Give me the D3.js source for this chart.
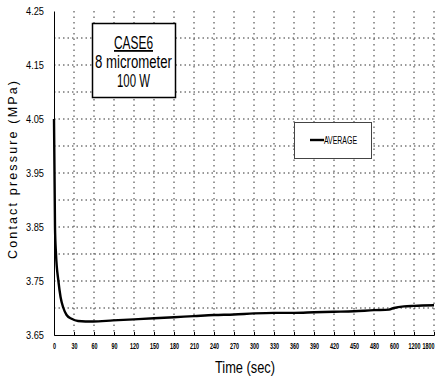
<!DOCTYPE html>
<html><head><meta charset="utf-8">
<script src="https://cdn.jsdelivr.net/npm/d3@7"></script>
<style>body{margin:0;background:#fff}</style>
</head><body>
<svg id="c" width="436" height="377"></svg>
<script>
const categories = ["0","30","60","90","120","150","180","210","240","270","300","330","360","390","420","450","480","600","1200","1800"];
// data positions measured along the category axis (index in categories, fractional between labels)
const pointIndex = [0, 0.05, 0.1, 0.22, 0.33, 0.47, 0.63, 0.88, 1.2, 1.95, 2.95, 4, 5, 6, 7, 8, 9, 10, 11, 12, 13, 14, 15, 16, 16.75, 17, 17.5, 18, 19];
const average    = [4.05, 3.85, 3.80, 3.75, 3.72, 3.70, 3.687, 3.68, 3.676, 3.675, 3.677, 3.679, 3.681, 3.683, 3.685, 3.687, 3.688, 3.690, 3.691, 3.691, 3.692, 3.693, 3.694, 3.696, 3.697, 3.700, 3.703, 3.704, 3.705];
const yTicks = [3.65, 3.75, 3.85, 3.95, 4.05, 4.15, 4.25];
const yGrid = [3.70, 3.75, 3.80, 3.85, 3.90, 3.95, 4.00, 4.05, 4.10, 4.15, 4.20];
const annotation = ["CASE6", "8 micrometer", "100 W"];
const seriesName = "AVERAGE";

const svg = d3.select("#c");
const L = 54, R = 434, T = 11, B = 335;
const font = "'Liberation Sans',Arial,sans-serif";

const x = d3.scaleLinear().domain([0, categories.length - 1]).range([L, R]);
const y = d3.scaleLinear().domain([3.65, 4.25]).range([B, T]);

// grid
svg.append("g").selectAll("line").data(yGrid).join("line")
  .attr("x1", L).attr("x2", 436).attr("y1", d => y(d)).attr("y2", d => y(d))
  .attr("stroke", "#333").attr("stroke-width", 1).attr("stroke-dasharray", "1.5,3");
svg.append("g").selectAll("line").data(d3.range(1, categories.length)).join("line")
  .attr("x1", d => x(d)).attr("x2", d => x(d)).attr("y1", T).attr("y2", B)
  .attr("stroke", "#333").attr("stroke-width", 1).attr("stroke-dasharray", "1.5,4");

// axes
const last = categories.length - 1;
const xAxis = d3.axisBottom(x).tickValues(d3.range(categories.length)).tickFormat(i => categories[i]).tickSize(-3).tickPadding(8);
const gx = svg.append("g").attr("transform", `translate(0,${B})`).call(xAxis);
gx.select(".domain").attr("stroke", "#000");
gx.selectAll(".tick line").attr("stroke", "#000");
gx.selectAll("text").attr("font-family", font).attr("font-size", 9).attr("font-weight", "bold").attr("fill", "#000")
  .attr("transform", "scale(0.6,1)")
  .attr("text-anchor", i => i === last ? "end" : "middle")
  .attr("x", i => i === last ? 0 : 0);

const yAxis = d3.axisLeft(y).tickValues(yTicks).tickFormat(d3.format(".2f")).tickSize(0).tickPadding(10);
const gy = svg.append("g").attr("transform", `translate(${L},0)`).call(yAxis);
gy.select(".domain").attr("stroke", "#000");
gy.selectAll("text").attr("font-family", font).attr("font-size", 11).attr("fill", "#000")
  .attr("textLength", 18).attr("lengthAdjust", "spacingAndGlyphs");

// series line
const line = d3.line().x((d, i) => x(pointIndex[i])).y(d => y(d)).curve(d3.curveMonotoneX);
svg.append("path").datum(average).attr("d", line)
  .attr("fill", "none").attr("stroke", "#000").attr("stroke-width", 2.4);

// annotation box
svg.append("rect").attr("x", 92.5).attr("y", 23.5).attr("width", 83).attr("height", 74)
  .attr("fill", "#fff").attr("stroke", "#000").attr("stroke-width", 1.5);
const ay = [49, 68, 87];
const aw = [39, 77, 33];
annotation.forEach((t, i) => {
  svg.append("text").attr("x", 133.5 - aw[i] / 2).attr("y", ay[i])
    .attr("font-family", font).attr("font-size", 18).attr("fill", "#000")
    .attr("textLength", aw[i]).attr("lengthAdjust", "spacingAndGlyphs")
    .attr("text-decoration", i === 0 ? "underline" : null).text(t);
});

// legend
svg.append("rect").attr("x", 294.5).attr("y", 122.5).attr("width", 77).attr("height", 36)
  .attr("fill", "#fff").attr("stroke", "#444").attr("stroke-width", 1);
svg.append("line").attr("x1", 310).attr("x2", 324).attr("y1", 140).attr("y2", 140)
  .attr("stroke", "#000").attr("stroke-width", 2.4);
svg.append("text").attr("x", 324).attr("y", 144).attr("font-family", font)
  .attr("font-size", 10).attr("textLength", 33).attr("lengthAdjust", "spacingAndGlyphs")
  .attr("fill", "#000").text(seriesName);

// axis titles
svg.append("text").attr("x", 215).attr("y", 373)
  .attr("font-family", font).attr("font-size", 16).attr("fill", "#000")
  .attr("textLength", 60).attr("lengthAdjust", "spacingAndGlyphs").text("Time (sec)");
svg.append("text").attr("transform", "translate(17,259) rotate(-90)")
  .attr("font-family", font).attr("font-size", 12.5).attr("fill", "#000")
  .attr("textLength", 178).attr("lengthAdjust", "spacing")
  .text("Contact pressure (MPa)");
</script>
</body></html>
